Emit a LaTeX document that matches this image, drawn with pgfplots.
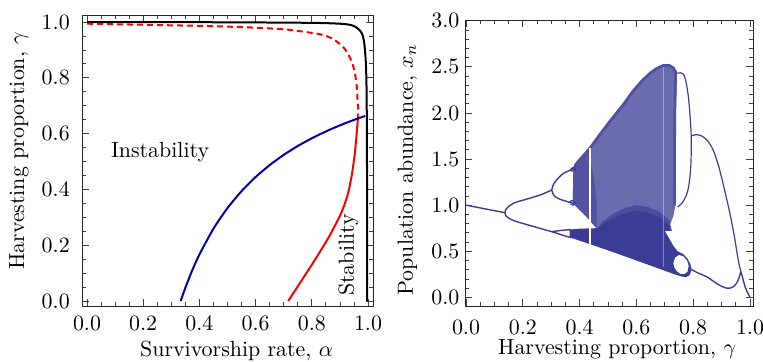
\documentclass[border=0pt]{standalone}
\usepackage{pgfplots}
\pgfplotsset{compat=1.18}
\definecolor{bif}{RGB}{60,60,150}
\definecolor{cblue}{RGB}{0,0,175}
\definecolor{cred}{RGB}{255,0,0}
\begin{document}
\fontsize{10.95}{13.6}\selectfont
\begin{tikzpicture}
\path[use as bounding box] (0,0) rectangle (381.5pt,-180.5pt);
\pgfplotsset{
  myax/.style={
    scale only axis,
    anchor=south west,
    tick align=inside,
    axis line style={black!85, line width=0.5pt},
    major tick length=3.5pt,
    minor tick length=2pt,
    every tick/.style={black!75, line width=0.4pt},
    xticklabel style={/pgf/number format/fixed, /pgf/number format/fixed zerofill, /pgf/number format/precision=1},
    yticklabel style={/pgf/number format/fixed, /pgf/number format/fixed zerofill, /pgf/number format/precision=1},
  }
}
% ---------------- left panel ----------------
\begin{axis}[myax,
  at={(41pt,-153pt)}, width=145.5pt, height=145.5pt,
  xmin=-0.0178, xmax=1.0178, ymin=-0.0179, ymax=1.0251,
  xtick={0,0.2,0.4,0.6,0.8,1}, ytick={0,0.2,0.4,0.6,0.8,1},
  minor x tick num=3, minor y tick num=3,
  xticklabel style={yshift=-1.2pt},
  yticklabel style={xshift=-2.3pt},
  xlabel={Survivorship rate, $\alpha$},
  ylabel={Harvesting proportion, $\gamma$},
  xlabel style={at={(axis description cs:0.531,-0.175)}, anchor=base},
  ylabel style={at={(axis description cs:-0.199,0.533)}, anchor=base},
]
\addplot[black, line width=1pt, smooth, tension=0.4] coordinates {
(0,1.0) (0.5,0.999) (0.8,0.997) (0.9,0.994) (0.936,0.99) (0.955,0.983) (0.971,0.97) (0.98,0.955) (0.986,0.93) (0.99,0.89) (0.993,0.84) (0.995,0.75) (0.996,0.6) (0.997,0.3) (0.997,0)
};
\addplot[cred, line width=1pt, dash pattern=on 3pt off 2pt, smooth, tension=0.4] coordinates {
(0,0.994) (0.26,0.989) (0.45,0.985) (0.616,0.979) (0.72,0.972) (0.83,0.956) (0.87,0.942) (0.90,0.921) (0.92,0.9) (0.936,0.872) (0.948,0.84) (0.954,0.814) (0.96,0.77) (0.963,0.717) (0.965,0.69) (0.965,0.665)
};
\addplot[cred, line width=1pt, smooth, tension=0.4] coordinates {
(0.716,0) (0.76,0.068) (0.80,0.13) (0.83,0.178) (0.86,0.228) (0.88,0.266) (0.90,0.305) (0.915,0.342) (0.93,0.39) (0.942,0.45) (0.952,0.52) (0.958,0.58) (0.962,0.63) (0.965,0.665)
};
\addplot[cblue, line width=1pt, smooth, tension=0.4] coordinates {
(0.3333,0) (0.35,0.0476) (0.375,0.1111) (0.4,0.1667) (0.45,0.2593) (0.5,0.3333) (0.55,0.3939) (0.6,0.4444) (0.65,0.4872) (0.7,0.5238) (0.75,0.5556) (0.8,0.5833) (0.85,0.6078) (0.9,0.6296) (0.95,0.6491) (0.99,0.6633)
};
\node at (axis cs:0.26,0.535) {Instability};
\node[rotate=90] at (axis cs:0.93,0.165) {Stability};
\end{axis}
% ---------------- right panel ----------------
\begin{axis}[myax,
  at={(232.5pt,-153pt)}, width=144pt, height=143pt,
  xmin=-0.0035, xmax=1.0106, ymin=-0.094, ymax=3.008,
  xtick={0,0.2,0.4,0.6,0.8,1}, ytick={0,0.5,1,1.5,2,2.5,3},
  minor x tick num=3, minor y tick num=4,
  xticklabel style={yshift=-3.4pt},
  yticklabel style={xshift=1pt},
  xlabel={Harvesting proportion, $\gamma$},
  ylabel={Population abundance, $x_n$},
  xlabel style={at={(axis description cs:0.528,-0.171)}, anchor=base},
  ylabel style={at={(axis description cs:-0.181,0.476)}, anchor=base},
]
% chaotic upper region (speckled)
\addplot[fill=bif!76!white, draw=none] coordinates {
(0.376,1.02) (0.378,1.40) (0.384,1.44) (0.40,1.50) (0.437,1.63) (0.47,1.77) (0.507,1.92) (0.554,2.10) (0.589,2.25) (0.62,2.36) (0.648,2.44) (0.67,2.49) (0.695,2.525) (0.715,2.525) (0.73,2.50) (0.742,2.45) (0.742,2.3) (0.739,2.0) (0.738,1.5) (0.738,1.0) (0.73,0.88) (0.715,0.76) (0.70,0.72) (0.46,0.75) (0.42,0.887) (0.376,1.02)
} -- cycle;
% denser left part of the upper region
\addplot[fill=bif!88!white, draw=none] coordinates {
(0.376,1.02) (0.378,1.40) (0.384,1.44) (0.40,1.50) (0.43,1.60) (0.45,1.30) (0.46,1.05) (0.46,0.75) (0.42,0.887)
} -- cycle;
% denser outer edges
\addplot[bif!90!white, line width=1.4pt] coordinates {
(0.384,1.43) (0.40,1.49) (0.437,1.62) (0.47,1.76) (0.507,1.91) (0.554,2.09) (0.589,2.24) (0.62,2.35) (0.648,2.43) (0.67,2.48) (0.695,2.515) (0.715,2.515) (0.73,2.49) (0.738,2.44) (0.737,2.3) (0.735,2.0) (0.734,1.5) (0.734,1.0)
};
% dense bulge
\addplot[fill=bif!92!white, draw=none] coordinates {
(0.46,0.74) (0.48,0.82) (0.52,0.91) (0.56,0.97) (0.60,1.0) (0.64,0.98) (0.68,0.93) (0.715,0.84) (0.725,0.72)
} -- cycle;
\addplot[fill=bif, draw=none] coordinates {
(0.46,0.74) (0.48,0.79) (0.52,0.86) (0.56,0.91) (0.60,0.94) (0.64,0.92) (0.68,0.87) (0.715,0.78) (0.72,0.72)
} -- cycle;
% lower dense band
\addplot[fill=bif, draw=none] coordinates {
(0.365,0.735) (0.40,0.745) (0.46,0.75) (0.55,0.745) (0.62,0.735) (0.70,0.72) (0.715,0.64) (0.73,0.56) (0.745,0.50) (0.765,0.47) (0.78,0.42) (0.79,0.36) (0.795,0.30) (0.787,0.24) (0.775,0.22) (0.76,0.225) (0.745,0.24) (0.73,0.255) (0.60,0.40) (0.50,0.51) (0.40,0.615) (0.365,0.65)
} -- cycle;
% hole of period-2 loop
\addplot[fill=white, draw=none] coordinates {
(0.730,0.37) (0.736,0.43) (0.75,0.46) (0.765,0.445) (0.778,0.40) (0.784,0.34) (0.78,0.28) (0.77,0.255) (0.755,0.255) (0.742,0.285) (0.733,0.33)
} -- cycle;
% periodic windows
\addplot[white, line width=0.8pt] coordinates {(0.437,0.57) (0.437,1.62)};
\addplot[white, line width=0.5pt, opacity=0.35] coordinates {(0.695,0.33) (0.695,2.50)};
% branches
\addplot[bif, line width=0.7pt] coordinates {(0,1.0) (0.07,0.958) (0.137,0.918)};
\addplot[bif, line width=0.7pt, smooth, tension=0.5] coordinates {(0.137,0.918) (0.14,0.95) (0.15,0.985) (0.17,1.025) (0.202,1.055) (0.261,1.11) (0.302,1.164)};
\addplot[bif, line width=0.7pt, smooth, tension=0.5] coordinates {(0.137,0.918) (0.14,0.885) (0.15,0.86) (0.17,0.83) (0.202,0.80) (0.261,0.748) (0.302,0.712)};
\addplot[bif, line width=0.7pt, smooth, tension=0.5] coordinates {(0.302,1.164) (0.306,1.21) (0.314,1.254) (0.33,1.31) (0.343,1.345) (0.36,1.37) (0.375,1.39) (0.385,1.43)};
\addplot[bif, line width=0.7pt, smooth, tension=0.5] coordinates {(0.302,1.164) (0.306,1.125) (0.315,1.09) (0.33,1.065) (0.35,1.045) (0.365,1.03) (0.378,1.02)};
\addplot[bif, line width=0.6pt, smooth, tension=0.6] coordinates {(0.365,1.37) (0.372,1.40) (0.38,1.41) (0.386,1.395) (0.38,1.375) (0.37,1.37)};
\addplot[bif, line width=0.6pt, smooth, tension=0.6] coordinates {(0.365,1.03) (0.372,1.05) (0.38,1.045) (0.384,1.02) (0.378,1.0) (0.368,1.01)};
\addplot[bif, line width=0.7pt, smooth, tension=0.5] coordinates {(0.302,0.712) (0.33,0.724) (0.37,0.735)};
\addplot[bif, line width=0.7pt, smooth, tension=0.5] coordinates {(0.302,0.712) (0.315,0.70) (0.33,0.685) (0.35,0.665) (0.37,0.648)};
\addplot[bif, line width=0.6pt, smooth, tension=0.5] coordinates {(0.742,2.43) (0.755,2.435) (0.768,2.41) (0.777,2.30) (0.784,2.15) (0.789,1.96) (0.793,1.75) (0.792,1.45) (0.785,1.22) (0.775,1.10) (0.76,1.02) (0.745,0.98)};
\addplot[bif, line width=0.6pt, smooth, tension=0.5] coordinates {(0.793,1.75) (0.81,1.765) (0.83,1.75) (0.85,1.70) (0.87,1.60) (0.89,1.42) (0.91,1.17) (0.93,0.90) (0.945,0.66) (0.955,0.47) (0.963,0.34) (0.968,0.28)};
\addplot[bif, line width=0.7pt, smooth, tension=0.5] coordinates {(0.795,0.30) (0.82,0.26) (0.847,0.224) (0.883,0.15) (0.90,0.12) (0.918,0.10) (0.93,0.10) (0.941,0.115) (0.952,0.15) (0.96,0.20) (0.965,0.25) (0.968,0.28)};
\addplot[bif, line width=0.7pt] coordinates {(0.968,0.28) (0.975,0.20) (0.982,0.12) (0.99,0.06) (1.0,0.0)};
\end{axis}
\end{tikzpicture}
\end{document}
